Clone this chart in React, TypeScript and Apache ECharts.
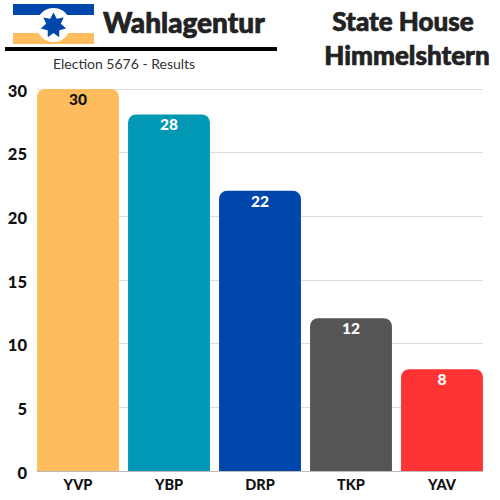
import React, { useEffect, useRef } from "react";
import * as echarts from "echarts";

const categories = ["YVP", "YBP", "DRP", "TKP", "YAV"];
const seats = [30, 28, 22, 12, 8];
const colors = ["#FFBC5C", "#0098B4", "#0047AB", "#555555", "#FF3333"];
const labelColors = ["#111111", "#ffffff", "#ffffff", "#ffffff", "#ffffff"];

function starPoints(cx: number, cy: number, R: number, r: number, n: number) {
  const pts: number[][] = [];
  for (let i = 0; i < n * 2; i++) {
    const a = -Math.PI / 2 + (i * Math.PI) / n;
    const rad = i % 2 === 0 ? R : r;
    pts.push([cx + rad * Math.cos(a), cy + rad * Math.sin(a)]);
  }
  return pts;
}

const heading = { fontFamily: "Lato", fontWeight: 900, fill: "#222222", stroke: "#222222", lineWidth: 0.7 };

export default function App() {
  const ref = useRef<HTMLDivElement>(null);
  useEffect(() => {
    document.body.style.margin = "0";
    const chart = echarts.init(ref.current!, undefined, { renderer: "svg" });
    chart.setOption({
      animation: false,
      backgroundColor: "#ffffff",
      grid: [
        { left: 32.5, right: 12.5, top: 89, bottom: 29 },
        { left: 37, right: 17, top: 89, bottom: 29 },
        { left: 37, right: 17, top: 90.5, bottom: 27.5 },
      ],
      xAxis: [
        {
          type: "category",
          gridIndex: 0,
          data: categories,
          axisTick: { show: false },
          axisLine: { show: false },
          axisLabel: { color: "#111111", fontFamily: "Lato", fontWeight: 900, fontSize: 14.5, margin: 6 },
        },
        {
          type: "category",
          gridIndex: 1,
          data: categories,
          axisTick: { show: false },
          axisLabel: { show: false },
          axisLine: { show: true, lineStyle: { color: "#bbbbbb", width: 1 } },
        },
        {
          type: "category",
          gridIndex: 2,
          data: categories,
          show: false,
        },
      ],
      yAxis: [
        {
          type: "value",
          gridIndex: 0,
          min: 0,
          max: 30,
          interval: 5,
          axisLine: { show: false },
          axisTick: { show: false },
          splitLine: { show: false },
          axisLabel: { show: false },
        },
        {
          type: "value",
          gridIndex: 1,
          min: 0,
          max: 30,
          interval: 5,
          axisLine: { show: false },
          axisTick: { show: false },
          splitLine: { lineStyle: { color: "#dddddd", width: 1 } },
          axisLabel: { show: false },
        },
        {
          type: "value",
          gridIndex: 2,
          min: 0,
          max: 30,
          interval: 5,
          axisLine: { show: false },
          axisTick: { show: false },
          splitLine: { show: false },
          axisLabel: { color: "#111111", fontFamily: "Lato", fontWeight: 900, fontSize: 16.5, margin: 10 },
        },
      ],
      series: [
        {
          type: "bar",
          xAxisIndex: 0,
          yAxisIndex: 0,
          barWidth: "90%",
          data: seats.map((v, i) => ({
            value: v,
            itemStyle: { color: colors[i], borderRadius: [8, 8, 0, 0] },
            label: { color: labelColors[i] },
          })),
          label: {
            show: true,
            position: "insideTop",
            distance: 2,
            fontFamily: "Lato",
            fontWeight: 900,
            fontSize: 15.5,
          },
        },
      ],
      graphic: [
        { type: "rect", shape: { x: 13, y: 4, width: 81, height: 11 }, style: { fill: "#0047AB" } },
        { type: "rect", shape: { x: 13, y: 33, width: 81, height: 11 }, style: { fill: "#FFBC5C" } },
        { type: "circle", shape: { cx: 53.5, cy: 25, r: 17 }, style: { fill: "#ffffff" } },
        { type: "polygon", shape: { points: starPoints(53.5, 25.5, 13, 7.5, 7) }, style: { fill: "#0047AB" } },
        { type: "rect", shape: { x: 5, y: 47, width: 272, height: 4 }, style: { fill: "#000000" } },
        { type: "text", x: 103, y: 8, style: { ...heading, text: "Wahlagentur", fontSize: 28 } },
        { type: "text", x: 53, y: 56, style: { text: "Election 5676 - Results", fontFamily: "Lato", fontSize: 14, fill: "#333333" } },
        { type: "text", x: 403, y: 8, style: { ...heading, text: "State House", align: "center", fontSize: 26 } },
        { type: "text", x: 407, y: 42, style: { ...heading, text: "Himmelshtern", align: "center", fontSize: 26 } },
      ],
    });
    return () => chart.dispose();
  }, []);
  return <div ref={ref} style={{ width: 500, height: 500 }} />;
}
